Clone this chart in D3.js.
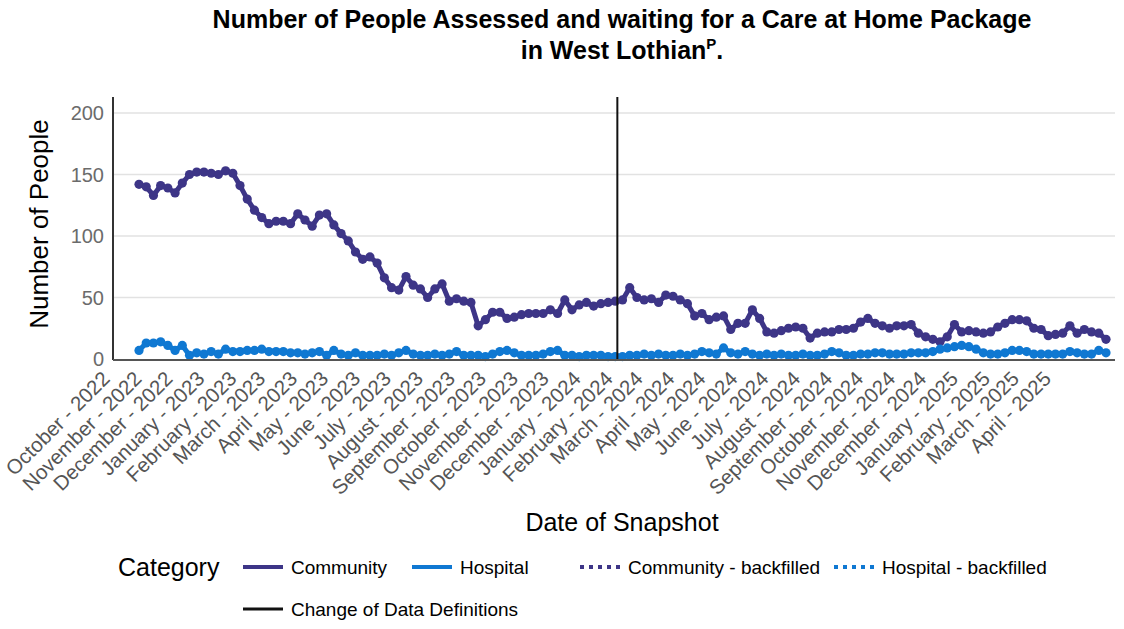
<!DOCTYPE html>
<html>
<head>
<meta charset="utf-8">
<script src="https://cdn.jsdelivr.net/npm/d3@7"></script>
<style>
  body { margin: 0; background: #fff; }
  text { font-family: Arial, 'Liberation Sans', sans-serif; }
</style>
</head>
<body>
<svg width="1124" height="629"></svg>
<script>
// weekly snapshots, first one below
const startDate = '2022-10-02'
const changeDate = '2024-01-09'
const firstMonth = '2022-10-01'
const lastMonth = '2025-04-01'

const community = [
  142, 140, 133, 141, 139, 135, 143, 150, 152, 152,
  151, 150, 153, 151, 141, 130, 121, 115, 110, 112,
  112, 110, 118, 113, 108, 117, 118, 109, 102, 96,
  87, 81, 83, 78, 66, 58, 56, 67, 60, 57,
  50, 57, 61, 47, 49, 47, 46, 27, 32, 38,
  38, 33, 34, 36, 37, 37, 37, 40, 37, 48,
  40, 44, 46, 43, 45, 46, 47, 48, 58, 50,
  48, 49, 46, 52, 51, 48, 45, 35, 37, 32,
  34, 35, 24, 29, 29, 40, 33, 22, 21, 23,
  25, 26, 25, 17, 21, 22, 22, 24, 24, 25,
  30, 33, 29, 27, 25, 27, 27, 28, 21, 18,
  16, 14, 18, 28, 22, 23, 22, 21, 22, 26,
  29, 32, 32, 31, 25, 24, 19, 20, 21, 27,
  21, 24, 22, 21, 16
]
const hospital = [
  7, 13, 13, 14, 11, 7, 11, 3, 5, 4,
  6, 4, 8, 6, 6, 7, 7, 8, 6, 6,
  6, 5, 5, 4, 5, 6, 3, 7, 4, 3,
  5, 3, 3, 3, 4, 3, 5, 7, 4, 3,
  3, 4, 3, 4, 6, 3, 3, 3, 2, 4,
  6, 7, 5, 3, 3, 3, 4, 6, 7, 3,
  3, 2, 3, 3, 3, 2, 2, 2, 3, 3,
  4, 3, 4, 3, 3, 4, 3, 4, 6, 5,
  4, 9, 5, 4, 6, 4, 3, 4, 3, 4,
  3, 3, 4, 3, 3, 4, 6, 5, 3, 3,
  4, 4, 5, 5, 4, 4, 4, 5, 5, 5,
  6, 8, 9, 10, 11, 10, 8, 5, 4, 4,
  5, 7, 7, 6, 4, 4, 4, 4, 4, 6,
  5, 4, 4, 7, 5
]
const yTicks = [0, 50, 100, 150, 200]
const legendNames = ['Community', 'Hospital', 'Community - backfilled', 'Hospital - backfilled']

const colors = {Community: '#3d3587', Hospital: '#0f78d2'}

const svg = d3.select('svg')
const plot = {left: 113, right: 1115, top: 97, bottom: 359}

const parse = d3.timeParse('%Y-%m-%d')
const start = parse(startDate)
const dates = community.map((v, i) => d3.timeDay.offset(start, 7 * i))

const x = d3.scaleTime()
  .domain([dates[0], dates[dates.length - 1]])
  .range([139, 1106])

const y = d3.scaleLinear()
  .domain([0, 213])
  .range([plot.bottom, plot.top])

// gridlines
svg.append('g')
  .selectAll('line')
  .data(yTicks.slice(1))
  .enter().append('line')
    .attr('x1', plot.left)
    .attr('x2', plot.right)
    .attr('y1', d => y(d))
    .attr('y2', d => y(d))
    .attr('stroke', '#e2e2e2')
    .attr('stroke-width', 1.5)

svg.append('g')
  .selectAll('text')
  .data(yTicks)
  .enter().append('text')
    .attr('x', 104)
    .attr('y', d => y(d))
    .attr('dy', '0.36em')
    .attr('text-anchor', 'end')
    .attr('fill', '#6b6b6b')
    .style('font-size', '20px')
    .text(d => d)

const series = [
  {name: 'Community', values: community},
  {name: 'Hospital', values: hospital}
]

const line = d3.line()
  .x((d, i) => x(dates[i]))
  .y(d => y(d))

const seriesG = svg.append('g')
  .selectAll('g')
  .data(series)
  .enter().append('g')

seriesG.append('path')
  .attr('d', d => line(d.values))
  .attr('fill', 'none')
  .attr('stroke', d => colors[d.name])
  .attr('stroke-width', 5)
  .attr('stroke-linejoin', 'round')

seriesG.each(function (s) {
  d3.select(this).selectAll('circle')
    .data(s.values)
    .enter().append('circle')
      .attr('cx', (d, i) => x(dates[i]))
      .attr('cy', d => y(d))
      .attr('r', 4.6)
      .attr('fill', colors[s.name])
})

// change of data definitions
svg.append('line')
  .attr('x1', x(parse(changeDate)))
  .attr('x2', x(parse(changeDate)))
  .attr('y1', plot.top)
  .attr('y2', plot.bottom)
  .attr('stroke', '#111')
  .attr('stroke-width', 2)

// axes lines
svg.append('line')
  .attr('x1', plot.left).attr('x2', plot.left)
  .attr('y1', plot.top).attr('y2', plot.bottom + 1)
  .attr('stroke', '#333').attr('stroke-width', 2)
svg.append('line')
  .attr('x1', plot.left).attr('x2', plot.right)
  .attr('y1', plot.bottom + 1).attr('y2', plot.bottom + 1)
  .attr('stroke', '#555').attr('stroke-width', 2)

const months = d3.timeMonth.range(parse(firstMonth), d3.timeMonth.offset(parse(lastMonth), 1))
const fmt = d3.timeFormat('%B - %Y')

svg.append('g')
  .selectAll('text')
  .data(months)
  .enter().append('text')
    .attr('transform', d => 'translate(' + (x(d) - 27) + ',380) rotate(-45)')
    .attr('text-anchor', 'end')
    .attr('fill', '#555')
    .style('font-size', '20.5px')
    .text(d => fmt(d))

// titles
svg.append('text')
  .attr('x', 622)
  .attr('y', 28)
  .attr('text-anchor', 'middle')
  .style('font-size', '25px')
  .style('font-weight', 'bold')
  .text('Number of People Assessed and waiting for a Care at Home Package')

const title2 = svg.append('text')
  .attr('x', 622)
  .attr('y', 59)
  .attr('text-anchor', 'middle')
  .style('font-size', '25px')
  .style('font-weight', 'bold')
title2.append('tspan').text('in West Lothian')
title2.append('tspan').attr('dy', -10).style('font-size', '15px').text('P')
title2.append('tspan').attr('dy', 10).text('.')

svg.append('text')
  .attr('transform', 'translate(48,224) rotate(-90)')
  .attr('text-anchor', 'middle')
  .style('font-size', '26px')
  .text('Number of People')

svg.append('text')
  .attr('x', 622)
  .attr('y', 531)
  .attr('text-anchor', 'middle')
  .style('font-size', '25px')
  .text('Date of Snapshot')

// legend
const legend = svg.append('g')
legend.append('text')
  .attr('x', 118)
  .attr('y', 576)
  .style('font-size', '25px')
  .text('Category')

const legendX = [243, 412, 580, 834]
const legendEnter = legend.selectAll('g')
  .data(legendNames)
  .enter().append('g')
    .attr('transform', (d, i) => 'translate(' + legendX[i] + ',567)')

legendEnter.append('line')
  .attr('x1', 0)
  .attr('x2', 40)
  .attr('stroke', d => d.indexOf('Hospital') === 0 ? colors.Hospital : colors.Community)
  .attr('stroke-width', 4)
  .attr('stroke-dasharray', d => d.indexOf('backfilled') > 0 ? '4,5' : null)

legendEnter.append('text')
  .attr('x', 48)
  .attr('dy', '0.35em')
  .style('font-size', '19px')
  .text(d => d)

const changeLegend = legend.append('g').attr('transform', 'translate(243,609)')
changeLegend.append('line')
  .attr('x1', 0).attr('x2', 40)
  .attr('stroke', '#111').attr('stroke-width', 3)
changeLegend.append('text')
  .attr('x', 48)
  .attr('dy', '0.35em')
  .style('font-size', '19px')
  .text('Change of Data Definitions')
</script>
</body>
</html>
